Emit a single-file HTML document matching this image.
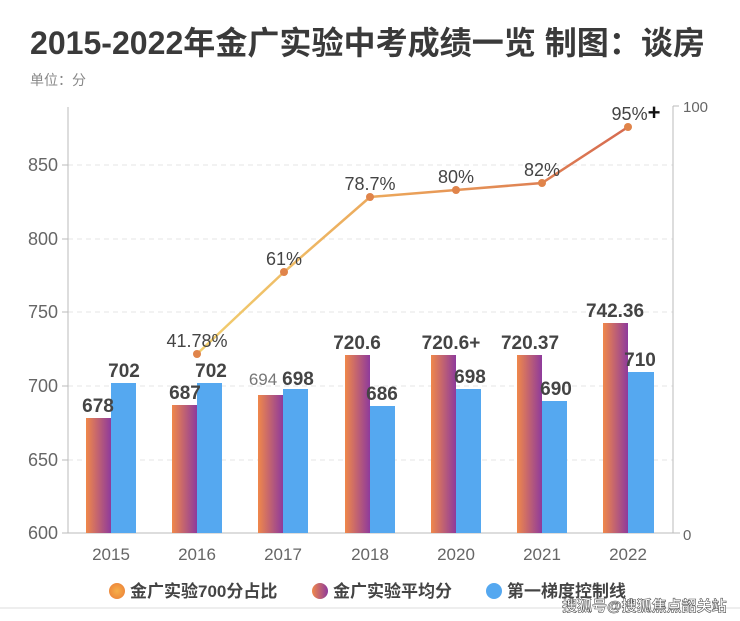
<!DOCTYPE html>
<html><head><meta charset="utf-8"><style>
body{margin:0;background:#fff;}
svg{display:block;font-family:"Liberation Sans","Noto Sans CJK SC",sans-serif;}
</style></head><body>
<svg width="740" height="621" viewBox="0 0 740 621" xmlns="http://www.w3.org/2000/svg">
<defs>
<linearGradient id="bg" x1="0" x2="1" y1="0" y2="0"><stop offset="0" stop-color="#f0884a"/><stop offset="1" stop-color="#8e3a9c"/></linearGradient>
<linearGradient id="lg" x1="197" x2="628" y1="0" y2="0" gradientUnits="userSpaceOnUse"><stop offset="0" stop-color="#f2d070"/><stop offset="0.5" stop-color="#eaa058"/><stop offset="1" stop-color="#d66a50"/></linearGradient>
<radialGradient id="lo"><stop offset="0" stop-color="#f6b04a"/><stop offset="1" stop-color="#ee8a3c"/></radialGradient>
</defs>
<text x="30" y="54" font-size="32" font-weight="bold" fill="#3a3a3a" textLength="675" lengthAdjust="spacingAndGlyphs">2015-2022年金广实验中考成绩一览 制图：谈房</text>
<text x="30" y="85" font-size="14" fill="#888">单位：分</text>
<g stroke="#e4e4e4" stroke-dasharray="5,4" stroke-width="1">
<line x1="68" x2="673" y1="165" y2="165"/><line x1="68" x2="673" y1="239" y2="239"/><line x1="68" x2="673" y1="312" y2="312"/><line x1="68" x2="673" y1="386" y2="386"/><line x1="68" x2="673" y1="460" y2="460"/>
</g>
<g stroke="#bbb" stroke-width="1">
<line x1="68" x2="68" y1="107" y2="533"/><line x1="673" x2="673" y1="106" y2="533"/><line x1="673" x2="679" y1="106" y2="106"/>
<line x1="68" x2="680" y1="533" y2="533"/>
<line x1="62" x2="68" y1="165" y2="165"/><line x1="62" x2="68" y1="239" y2="239"/><line x1="62" x2="68" y1="312" y2="312"/><line x1="62" x2="68" y1="386" y2="386"/><line x1="62" x2="68" y1="460" y2="460"/><line x1="62" x2="68" y1="533" y2="533"/>
</g>
<g font-size="18" fill="#666" text-anchor="end">
<text x="58" y="171">850</text><text x="58" y="245">800</text><text x="58" y="318">750</text><text x="58" y="392">700</text><text x="58" y="466">650</text><text x="58" y="539">600</text>
</g>
<text x="683" y="112" font-size="15" fill="#666">100</text>
<text x="683" y="540" font-size="15" fill="#666">0</text>
<g font-size="17" fill="#666" text-anchor="middle">
<text x="111" y="560">2015</text><text x="197" y="560">2016</text><text x="283" y="560">2017</text><text x="370" y="560">2018</text><text x="456" y="560">2020</text><text x="542" y="560">2021</text><text x="628" y="560">2022</text>
</g>
<g>
<rect x="86" y="418" width="25" height="115" fill="url(#bg)"/><rect x="111" y="383" width="25" height="150" fill="#55a8f0"/>
<rect x="172" y="405" width="25" height="128" fill="url(#bg)"/><rect x="197" y="383" width="25" height="150" fill="#55a8f0"/>
<rect x="258" y="395" width="25" height="138" fill="url(#bg)"/><rect x="283" y="389" width="25" height="144" fill="#55a8f0"/>
<rect x="345" y="355" width="25" height="178" fill="url(#bg)"/><rect x="370" y="406" width="25" height="127" fill="#55a8f0"/>
<rect x="431" y="355" width="25" height="178" fill="url(#bg)"/><rect x="456" y="389" width="25" height="144" fill="#55a8f0"/>
<rect x="517" y="355" width="25" height="178" fill="url(#bg)"/><rect x="542" y="401" width="25" height="132" fill="#55a8f0"/>
<rect x="603" y="323" width="25" height="210" fill="url(#bg)"/><rect x="628" y="372" width="26" height="161" fill="#55a8f0"/>
</g>
<g font-size="19" font-weight="bold" fill="#444" text-anchor="middle">
<text x="98" y="412">678</text><text x="124" y="377">702</text>
<text x="185" y="399">687</text><text x="211" y="377">702</text>
<text x="263" y="385" font-weight="normal" font-size="17" fill="#777">694</text><text x="298" y="385">698</text>
<text x="357" y="349">720.6</text><text x="382" y="400">686</text>
<text x="451" y="349">720.6+</text><text x="470" y="383">698</text>
<text x="530" y="349">720.37</text><text x="556" y="395">690</text>
<text x="615" y="317">742.36</text><text x="640" y="366">710</text>
</g>
<polyline points="197,354 284,272 370,197 456,190 542,183 628,127" fill="none" stroke="url(#lg)" stroke-width="2.5"/>
<g fill="#e0844a">
<circle cx="197" cy="354" r="4"/><circle cx="284" cy="272" r="4"/><circle cx="370" cy="197" r="4"/><circle cx="456" cy="190" r="4"/><circle cx="542" cy="183" r="4"/><circle cx="628" cy="127" r="4"/>
</g>
<g font-size="18" fill="#444" text-anchor="middle">
<text x="197" y="347">41.78%</text><text x="284" y="265">61%</text><text x="370" y="190">78.7%</text><text x="456" y="183">80%</text><text x="542" y="176">82%</text><text x="636" y="120">95%<tspan font-weight="bold" fill="#111" font-size="22">+</tspan></text>
</g>
<circle cx="117" cy="591" r="8" fill="url(#lo)"/>
<circle cx="320" cy="591" r="8" fill="url(#bg)"/>
<circle cx="494" cy="591" r="8" fill="#55a8f0"/>
<g font-size="17" font-weight="bold" fill="#444">
<text x="130" y="597">金广实验700分占比</text><text x="333" y="597">金广实验平均分</text><text x="507" y="597">第一梯度控制线</text>
</g>
<line x1="0" x2="740" y1="608" y2="608" stroke="#ddd"/>
<text x="562" y="611" font-size="15" font-weight="bold" fill="#fff" stroke="#555" stroke-width="0.6">搜狐号@搜狐焦点韶关站</text>
</svg>
</body></html>
